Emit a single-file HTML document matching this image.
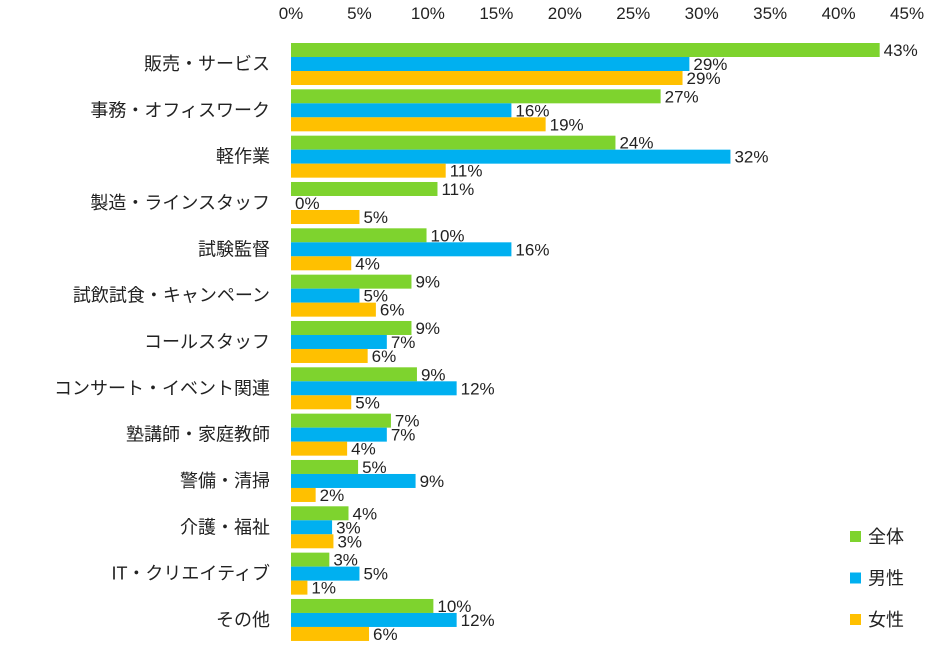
<!DOCTYPE html>
<html><head><meta charset="utf-8"><style>
body{margin:0;background:#fff;}
svg text{font-family:"Liberation Sans","Noto Sans CJK JP",sans-serif;font-size:17px;fill:#222;}
svg text.cat{font-size:18px;}
</style></head><body>
<svg id="chart" width="940" height="646" xmlns="http://www.w3.org/2000/svg"></svg>
<script>
const categories=["販売・サービス","事務・オフィスワーク","軽作業","製造・ラインスタッフ","試験監督","試飲試食・キャンペーン","コールスタッフ","コンサート・イベント関連","塾講師・家庭教師","警備・清掃","介護・福祉","IT・クリエイティブ","その他"];
const totalValues=[43,27,23.7,10.7,9.9,8.8,8.8,9.2,7.3,4.9,4.2,2.8,10.4];
const maleValues=[29.1,16.1,32.1,0,16.1,5.0,7.0,12.1,7.0,9.1,3.0,5.0,12.1];
const femaleValues=[28.6,18.6,11.3,5.0,4.4,6.2,5.6,4.4,4.1,1.8,3.1,1.2,5.7];
const totalLabels=["43%","27%","24%","11%","10%","9%","9%","9%","7%","5%","4%","3%","10%"];
const maleLabels=["29%","16%","32%","0%","16%","5%","7%","12%","7%","9%","3%","5%","12%"];
const femaleLabels=["29%","19%","11%","5%","4%","6%","6%","5%","4%","2%","3%","1%","6%"];
const tickValues=[0,5,10,15,20,25,30,35,40,45];
const seriesNames=["全体","男性","女性"];
const colors=["#7ed32e","#00b0f0","#ffc000"];
const svg=document.getElementById('chart');
const NS="http://www.w3.org/2000/svg";
const x0=291,pxPer=13.69,top0=43,pitch=46.33,bh=14;
const xs=v=>x0+v*pxPer;
function mk(t,a){const e=document.createElementNS(NS,t);for(const k in a)e.setAttribute(k,a[k]);svg.appendChild(e);return e;}
tickValues.forEach(t=>{const e=mk('text',{x:xs(t),y:19,'text-anchor':'middle'});e.textContent=t+'%';

});
const series=[totalValues,maleValues,femaleValues];
const labels=[totalLabels,maleLabels,femaleLabels];
categories.forEach((c,i)=>{const gy=top0+i*pitch;
const l=mk('text',{x:270,y:gy+bh*1.5+6,'text-anchor':'end','class':'cat'});l.textContent=c;


series.forEach((s,j)=>{const y=gy+j*bh;const v=s[i];
const r=mk('rect',{x:x0,y:y,width:Math.max(0,xs(v)-x0),height:bh,fill:colors[j]});


const t=mk('text',{x:xs(v)+4,y:y+bh/2+6});t.textContent=labels[j][i];

});});
seriesNames.forEach((n,j)=>{const y=537+j*41.5;
const r=mk('rect',{x:850,y:y-6,width:11,height:11,fill:colors[j]});


const t=mk('text',{x:868,y:y+6,'class':'cat'});t.textContent=n;

});
</script>
</body></html>
